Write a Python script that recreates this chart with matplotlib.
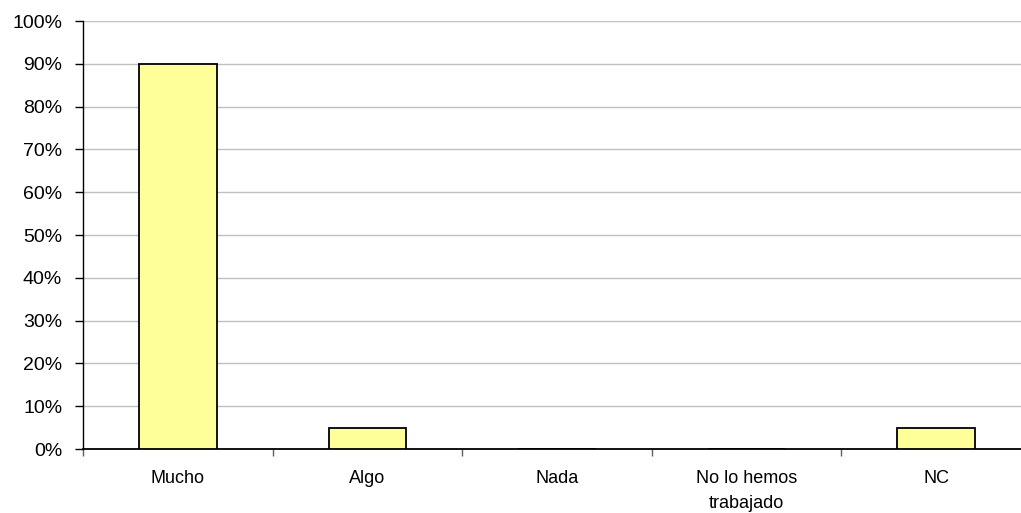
import numpy as np
import matplotlib.pyplot as plt
from matplotlib.ticker import FixedLocator, PercentFormatter

categorias = ["Mucho", "Algo", "Nada", "No lo hemos\ntrabajado", "NC"]
porcentajes = [90, 5, 0, 0, 5]
yticks = list(range(0, 101, 10))

plt.rcParams['font.family'] = ['Liberation Sans', 'DejaVu Sans']

fig = plt.figure(figsize=(10.21, 5.13), dpi=100)
ax = fig.add_axes([83 / 1021, 64 / 513, 948 / 1021, 428 / 513])

x = np.arange(len(categorias))
ax.bar(x, porcentajes, width=0.41, color='#FFFF99', edgecolor='black',
       linewidth=1.3, zorder=3)

ax.set_xlim(-0.5, len(categorias) - 0.5)
ax.set_ylim(0, 100)
ax.set_yticks(yticks)
ax.yaxis.set_major_formatter(PercentFormatter(decimals=0))
ax.yaxis.grid(True, color='#C0C0C0', linewidth=1, zorder=0)

ax.set_xticks(x)
ax.set_xticklabels(categorias, fontsize=13, linespacing=1.65)
ax.xaxis.set_minor_locator(FixedLocator(np.arange(-0.5, len(categorias), 1)))
ax.tick_params(axis='x', which='major', length=0, pad=15)
ax.tick_params(axis='x', which='minor', length=5, color='#606060', width=1)
ax.tick_params(axis='y', length=6, width=1, pad=9, labelsize=14)

for s in ['top', 'right']:
    ax.spines[s].set_visible(False)
ax.spines['left'].set_linewidth(1)
ax.spines['bottom'].set_linewidth(1.3)

fig.savefig('out.png', dpi=100)
